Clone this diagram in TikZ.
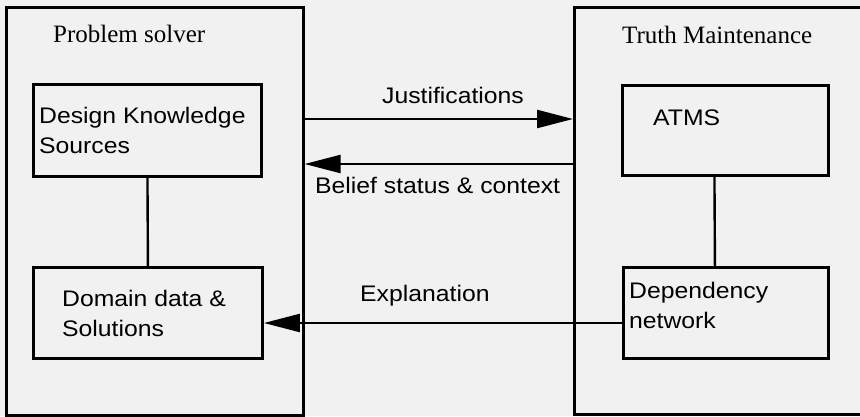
\documentclass[tikz,border=0pt]{standalone}
\usepackage{fontspec}
\setmainfont{Liberation Serif}
\newfontfamily\labelsans[FakeStretch=1.1]{Liberation Sans}
\usetikzlibrary{arrows.meta}
\definecolor{paper}{RGB}{241,241,241}
\tikzset{
  panel/.style={draw, line width=2.6pt, inner sep=0pt},
  unit/.style={draw, line width=2.9pt, inner sep=0pt},
  link/.style={line width=2.4pt},
  flow/.style={line width=2.3pt, -{Triangle[length=36pt,width=18pt]}},
  title/.style={font=\fontsize{25}{30}\selectfont, anchor=base west, inner sep=0pt},
  txt/.style={font=\labelsans\fontsize{22.5}{30}\selectfont, anchor=base west,
    inner sep=0pt, align=left},
}
\begin{document}
\begin{tikzpicture}[x=1pt, y=-1pt]
  \useasboundingbox (0,0) rectangle (860,416);
  \fill[paper] (0,0) rectangle (860,416);
  \clip (0,0) rectangle (860,416);

  % the two subsystems
  \node[panel, anchor=north west, minimum width=297pt, minimum height=408pt] (ps) at (5,6) {};
  \node[panel, anchor=north west, minimum width=320pt, minimum height=407pt] (tm) at (573,6) {};
  \node[title] (pslabel) at (53,42) {Problem solver};
  \node[title] (tmlabel) at (622,43) {Truth Maintenance};

  % components of the problem solver (two-line labels sit on their last baseline)
  \node[unit, anchor=north west, minimum width=228pt, minimum height=92pt] (dks) at (32,83) {};
  \node[unit, anchor=north west, minimum width=229pt, minimum height=91pt] (dom) at (32,266) {};
  \node[txt] (dkstext) at (39,153) {Design Knowledge\\Sources};
  \node[txt] (domtext) at (62,336) {Domain data \&\\Solutions};
  \draw[link] (dks.south) -- (dom.north);

  % components of the truth maintenance system
  \node[unit, anchor=north west, minimum width=206pt, minimum height=90pt] (atms) at (621,84) {};
  \node[unit, anchor=north west, minimum width=205pt, minimum height=91pt] (dep) at (622,266) {};
  \node[txt] (atmstext) at (653,125) {ATMS};
  \node[txt] (deptext) at (629,328) {Dependency\\network};
  \draw[link] ([xshift=-11pt]atms.south) -- ([xshift=-11pt]dep.north);

  % messages between the two
  \coordinate (jy) at (0,119);
  \coordinate (by) at (0,164);
  \coordinate (ey) at (0,323);
  \draw[flow] (ps.east |- jy) -- (tm.west |- jy);
  \draw[flow] (tm.west |- by) -- (ps.east |- by);
  \draw[flow] (dep.west |- ey) -- (dom.east |- ey);
  \node[txt] (jlabel) at (382,103) {Justifications};
  \node[txt] (blabel) at (315,193) {Belief status \& context};
  \node[txt] (elabel) at (360,301) {Explanation};
\end{tikzpicture}
\end{document}
